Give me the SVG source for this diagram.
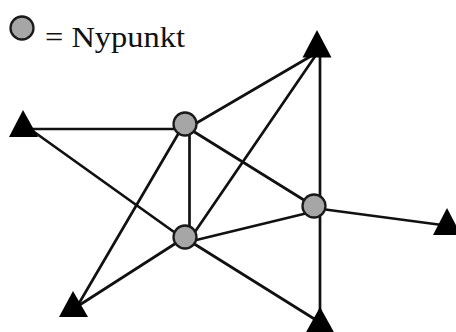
<svg xmlns="http://www.w3.org/2000/svg" width="456" height="332" viewBox="0 0 456 332">
  <style>
    .edge { stroke: #111; stroke-width: 2.7; stroke-linecap: round; fill: none; }
    .fixed { fill: #000; }
    .new { fill: #a6a6a6; stroke: #1a1a1a; stroke-width: 2.3; }
    .label { font-family: "Liberation Serif", "Times New Roman", serif; font-size: 29px; fill: #111; }
  </style>
  <rect width="456" height="332" fill="#fff"/>

  <!-- legend -->
  <g id="legend">
    <circle class="new" cx="22" cy="28" r="11.5"/>
    <text class="label" x="45" y="47" textLength="140" lengthAdjust="spacingAndGlyphs">= Nypunkt</text>
  </g>

  <!-- connectors -->
  <g id="edges">
    <line class="edge" x1="30" y1="129" x2="186" y2="129"/>
    <line class="edge" x1="30" y1="129" x2="188" y2="242"/>
    <line class="edge" x1="189.5" y1="128" x2="189.5" y2="242"/>
    <line class="edge" x1="184" y1="124" x2="78" y2="305"/>
    <line class="edge" x1="184" y1="238" x2="78" y2="306"/>
    <line class="edge" x1="188" y1="128" x2="318" y2="52"/>
    <line class="edge" x1="188" y1="242" x2="318" y2="52"/>
    <line class="edge" x1="188" y1="128" x2="320" y2="210"/>
    <line class="edge" x1="188" y1="242" x2="320" y2="210"/>
    <line class="edge" x1="320" y1="45" x2="320" y2="320"/>
    <line class="edge" x1="314" y1="208" x2="442" y2="225"/>
    <line class="edge" x1="188" y1="240" x2="316" y2="320"/>
  </g>

  <!-- fixed points -->
  <g id="t-top"><polygon class="fixed" points="317,30 302.5,57.5 331.5,57.5"/></g>
  <g id="t-left"><polygon class="fixed" points="23,110 9,137 38,137"/></g>
  <g id="t-right"><polygon class="fixed" points="447,208 433,235 461,235"/></g>
  <g id="t-bottom-left"><polygon class="fixed" points="73,291 59,317 88,317"/></g>
  <g id="t-bottom"><polygon class="fixed" points="320,307 305,334 335,334"/></g>

  <!-- new points -->
  <g id="n-a"><circle class="new" cx="185" cy="124" r="11.5"/></g>
  <g id="n-b"><circle class="new" cx="314" cy="206" r="11.5"/></g>
  <g id="n-c"><circle class="new" cx="185" cy="237" r="11.5"/></g>
</svg>
